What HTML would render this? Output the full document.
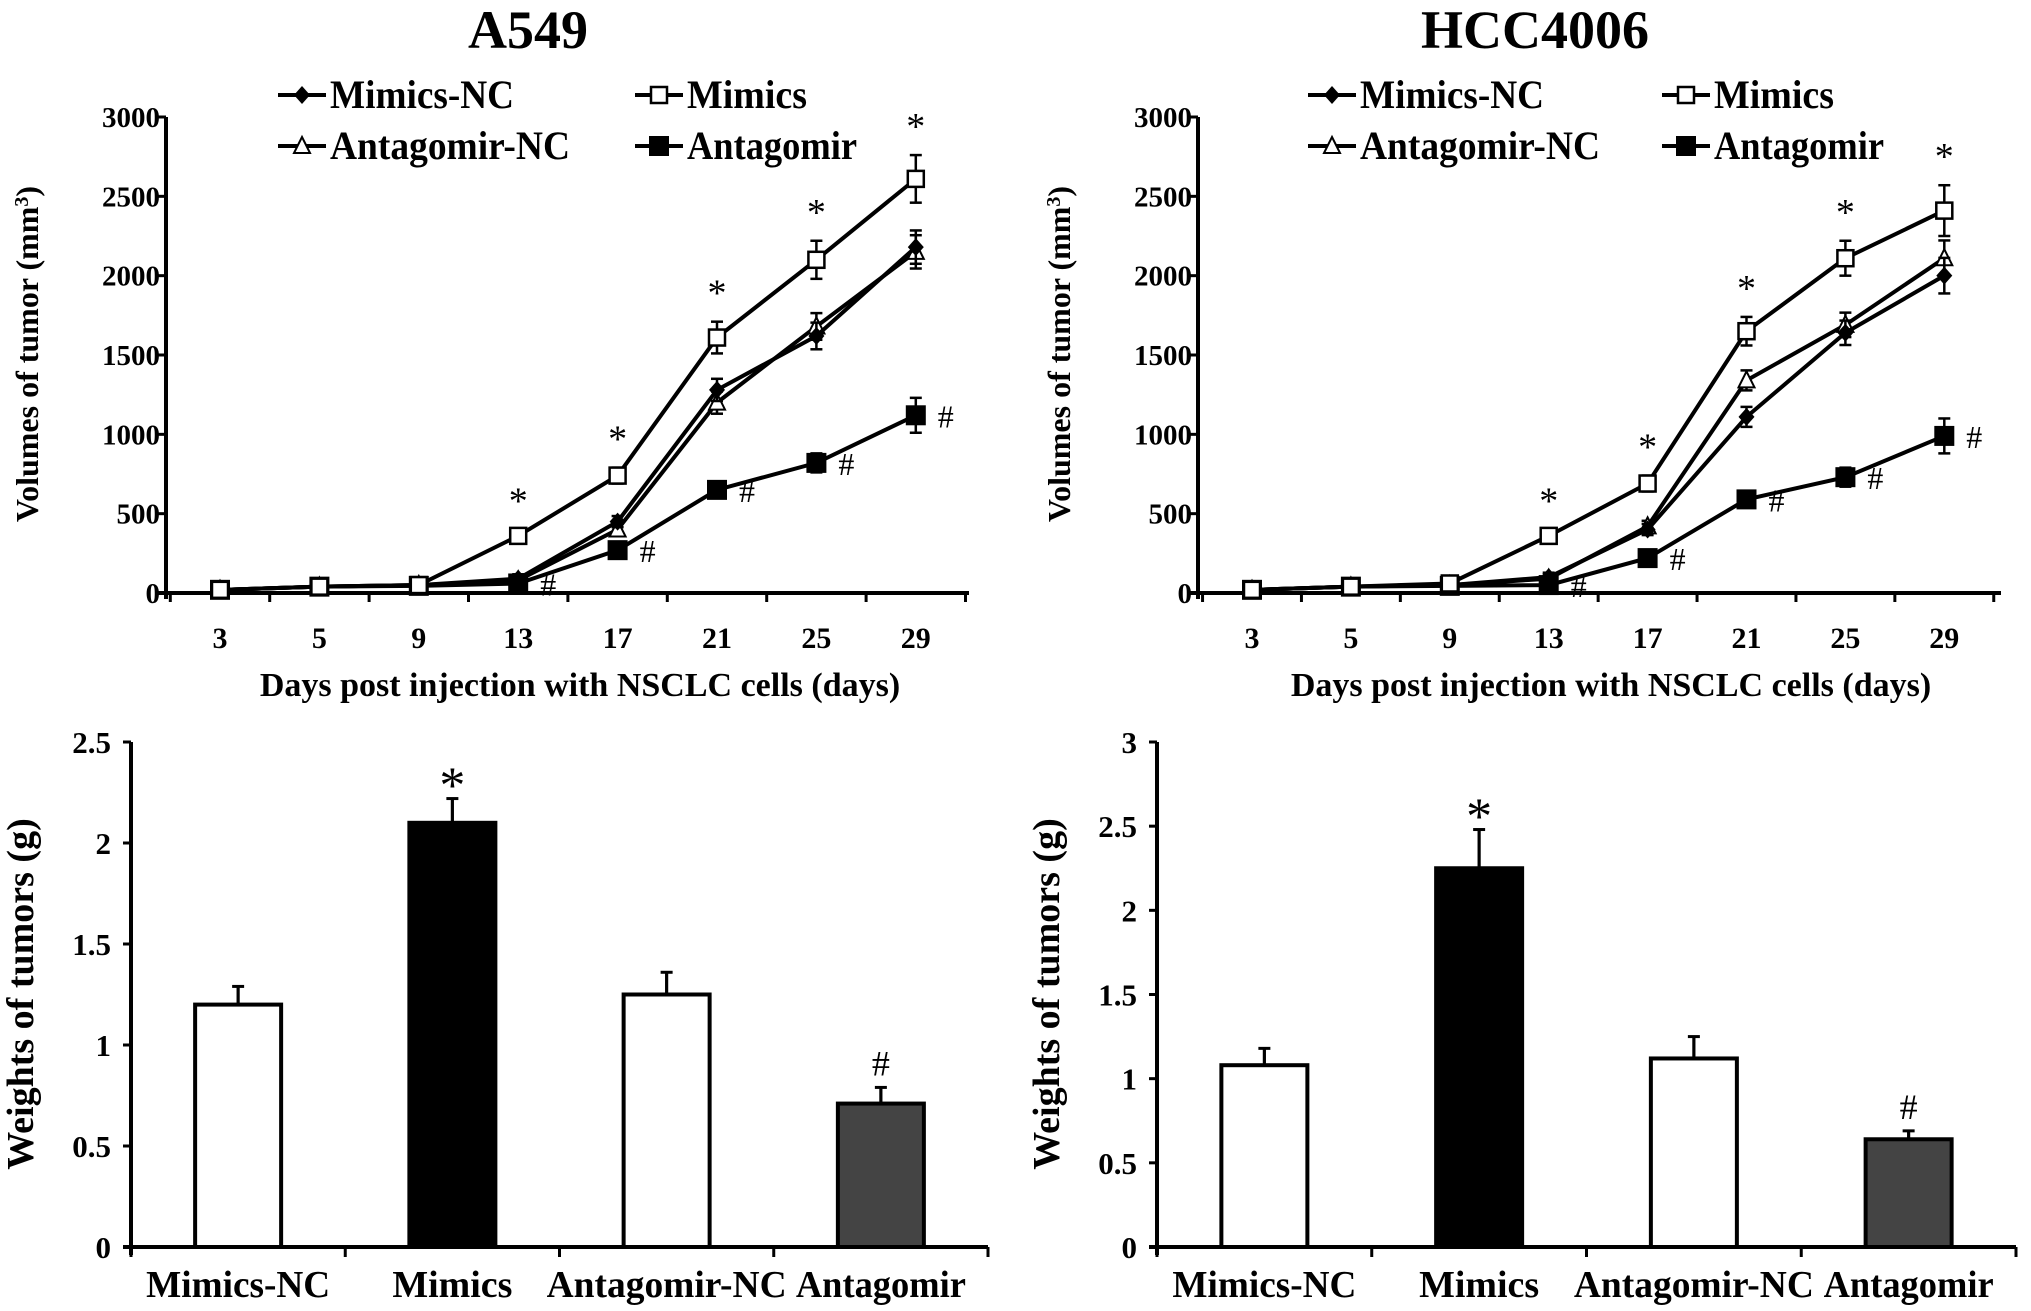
<!DOCTYPE html>
<html><head><meta charset="utf-8">
<style>
html,body{margin:0;padding:0;background:#fff;}
svg{display:block;font-family:"Liberation Serif",serif;font-weight:bold;}
</style></head>
<body>
<svg id="fig" width="2031" height="1311" viewBox="0 0 2031 1311"></svg>
<script>
const days = ["3","5","9","13","17","21","25","29"];
const volTicks = [0,500,1000,1500,2000,2500,3000];
const seriesNames = ["Mimics-NC","Mimics","Antagomir-NC","Antagomir"];
const a549MimicsNC = [20,40,50,90,450,1280,1620,2180];
const a549Mimics = [20,40,50,360,740,1610,2100,2610];
const a549AntagNC = [20,40,50,80,400,1200,1680,2150];
const a549Antag = [20,40,45,60,270,650,820,1120];
const a549MimicsErr = [10,10,15,40,50,100,120,150];
const a549AntagErr = [10,10,10,20,30,50,60,110];
const hccMimicsNC = [20,40,50,100,400,1110,1640,2000];
const hccMimics = [20,40,60,360,690,1650,2110,2410];
const hccAntagNC = [20,40,50,90,420,1340,1690,2110];
const hccAntag = [20,40,45,50,220,590,730,990];
const hccMimicsErr = [10,10,15,40,50,90,110,160];
const hccAntagErr = [10,10,10,20,30,50,60,110];
const barCats = ["Mimics-NC","Mimics","Antagomir-NC","Antagomir"];
const a549Weights = [1.2,2.1,1.25,0.71];
const a549WeightErr = [0.09,0.12,0.11,0.08];
const hccWeights = [1.08,2.25,1.12,0.64];
const hccWeightErr = [0.1,0.23,0.13,0.05];
const a549WTicks = ["0","0.5","1","1.5","2","2.5"];
const hccWTicks = ["0","0.5","1","1.5","2","2.5","3"];

const NS="http://www.w3.org/2000/svg";
const svg=document.getElementById('fig');
function el(tag,attrs,parent,text){const e=document.createElementNS(NS,tag);for(const k in attrs)e.setAttribute(k,attrs[k]);if(text!==undefined)e.textContent=text;(parent||svg).appendChild(e);return e;}

function lineChart(o){
  const g=el('g',{});
  
  
  const y=v=>o.y0-(v/3000)*(o.y0-o.yTop);
  const x=i=>o.x0+i*o.step;
  const t=el('text',{x:o.titleX,y:48,'font-size':54,'text-anchor':'middle'},g,o.title);
  
  const ya=el('line',{x1:o.ax,y1:o.yTop,x2:o.ax,y2:o.y0+6,stroke:'#000','stroke-width':4},g);
  
  const xa=el('line',{x1:o.ax-8,y1:o.y0,x2:o.axEnd,y2:o.y0,stroke:'#000','stroke-width':4},g);
  
  volTicks.forEach(v=>{
    el('line',{x1:o.ax-8,y1:y(v),x2:o.ax,y2:y(v),stroke:'#000','stroke-width':3},g);
    const l=el('text',{x:o.ax-6,y:y(v)+10,'font-size':29,'text-anchor':'end'},g,String(v));
    
  });
  for(let i=0;i<=days.length;i++){const tx=x(i)-o.step/2;el('line',{x1:tx,y1:o.y0,x2:tx,y2:o.y0+9,stroke:'#000','stroke-width':3},g);}
  days.forEach((d,i)=>{const l=el('text',{x:x(i),y:o.y0+55,'font-size':30,'text-anchor':'middle'},g,d);
    });
  const xt=el('text',{x:o.xTitleX,y:696,'font-size':34,'text-anchor':'middle'},g,'Days post injection with NSCLC cells  (days)');
  
  const yt=el('text',{x:0,y:0,'font-size':32,'text-anchor':'middle',transform:`translate(${o.ax-128},354) rotate(-90)`},g);
  
  yt.appendChild(document.createTextNode('Volumes of tumor (mm'));
  el('tspan',{dy:-10,'font-size':20},yt,'3');
  el('tspan',{dy:10},yt,')');
  const ss=o.series;
  const mk=(kind,cx,cy)=>{
    if(kind==0) return el('path',{d:`M${cx} ${cy-9}L${cx+8} ${cy}L${cx} ${cy+9}L${cx-8} ${cy}Z`,fill:'#000'},g);
    if(kind==1) return el('rect',{x:cx-8,y:cy-8,width:16,height:16,fill:'#fff',stroke:'#000','stroke-width':2.5},g);
    if(kind==2) return el('path',{d:`M${cx} ${cy-9}L${cx+8} ${cy+7}L${cx-8} ${cy+7}Z`,fill:'#fff',stroke:'#000','stroke-width':2},g);
    return el('rect',{x:cx-10,y:cy-10,width:20,height:20,fill:'#000'},g);
  };
  const order=[2,0,3,1];
  order.forEach(k=>{
    const vals=ss[k];
    const p=el('polyline',{points:vals.map((v,i)=>x(i)+','+y(v)).join(' '),fill:'none',stroke:'#000','stroke-width':4},g);
    
    const err=k==1?o.mErr:k==3?o.aErr:o.mErr.map(e=>e*0.7);
    vals.forEach((v,i)=>{
      if(err[i]>20){el('line',{x1:x(i),y1:y(v+err[i]),x2:x(i),y2:y(v-err[i]),stroke:'#000','stroke-width':2.5},g);
        el('line',{x1:x(i)-6,y1:y(v+err[i]),x2:x(i)+6,y2:y(v+err[i]),stroke:'#000','stroke-width':2.5},g);
        el('line',{x1:x(i)-6,y1:y(v-err[i]),x2:x(i)+6,y2:y(v-err[i]),stroke:'#000','stroke-width':2.5},g);}
      const m=mk(k,x(i),y(v));
      
    });
  });
  for(let i=3;i<days.length;i++){
    const s=el('text',{x:x(i),y:y(ss[1][i]+o.mErr[i])-16,'font-size':38,'font-weight':'normal','text-anchor':'middle'},g,'*');
    
    const h=el('text',{x:x(i)+22,y:y(ss[3][i])+12,'font-size':32,'font-weight':'normal'},g,'#');
    
  }
  const lg=[[o.lx1,95,0],[o.lx2,95,1],[o.lx1,146,2],[o.lx2,146,3]];
  lg.forEach(([lx,ly,k])=>{
    const e=el('g',{},g);
    
    el('line',{x1:lx,y1:ly,x2:lx+48,y2:ly,stroke:'#000','stroke-width':4},e);
    const m=mk(k,lx+24,ly);e.appendChild(m);
    el('text',{x:lx+52,y:ly+13,'font-size':40,textLength:k==2?240:(k==0?184:(k==1?120:170)),lengthAdjust:'spacingAndGlyphs'},e,seriesNames[k]);
  });
}

function barChart(o){
  const g=el('g',{});
  
  
  const y=v=>o.y0-(v/o.max)*(o.y0-o.yTop);
  const cw=(o.axEnd-o.ax)/barCats.length;
  const cx=i=>o.ax+cw*(i+0.5);
  const ya=el('line',{x1:o.ax,y1:o.yTop,x2:o.ax,y2:o.y0+8,stroke:'#000','stroke-width':4},g);
  
  const xa=el('line',{x1:o.ax-8,y1:o.y0,x2:o.axEnd,y2:o.y0,stroke:'#000','stroke-width':4},g);
  
  o.ticks.forEach(tl=>{const v=parseFloat(tl);
    el('line',{x1:o.ax-8,y1:y(v),x2:o.ax,y2:y(v),stroke:'#000','stroke-width':3},g);
    const l=el('text',{x:o.ax-20,y:y(v)+11,'font-size':31,'text-anchor':'end'},g,tl);
    });
  for(let i=0;i<=barCats.length;i++){el('line',{x1:o.ax+cw*i,y1:o.y0,x2:o.ax+cw*i,y2:o.y0+10,stroke:'#000','stroke-width':3},g);}
  const fills=['#fff','#000','#fff','#444'];
  const lens=[184,120,240,170];
  barCats.forEach((c,i)=>{
    const v=o.vals[i],e=o.errs[i];
    el('line',{x1:cx(i),y1:y(v+e),x2:cx(i),y2:y(v-e),stroke:'#000','stroke-width':3},g);
    el('line',{x1:cx(i)-6,y1:y(v+e),x2:cx(i)+6,y2:y(v+e),stroke:'#000','stroke-width':3},g);
    el('line',{x1:cx(i)-6,y1:y(v-e),x2:cx(i)+6,y2:y(v-e),stroke:'#000','stroke-width':3},g);
    const b=el('rect',{x:cx(i)-43,y:y(v),width:86,height:o.y0-y(v),fill:fills[i],stroke:'#000','stroke-width':4},g);
    
    el('line',{x1:cx(i),y1:y(v+e),x2:cx(i),y2:y(v),stroke:'#000','stroke-width':3},g);
    const l=el('text',{x:cx(i),y:o.y0+50,'font-size':38,'text-anchor':'middle',textLength:lens[i],lengthAdjust:'spacingAndGlyphs'},g,c);
    
  });
  const s=el('text',{x:cx(1),y:y(o.vals[1]+o.errs[1])+4,'font-size':52,'font-weight':'normal','text-anchor':'middle'},g,'*');
  
  const h=el('text',{x:cx(3),y:y(o.vals[3]+o.errs[3])-12,'font-size':36,'font-weight':'normal','text-anchor':'middle'},g,'#');
  
  const yt=el('text',{x:0,y:0,'font-size':38,'text-anchor':'middle',transform:`translate(${o.ax-98},994) rotate(-90)`},g,'Weights of tumors (g)');
  
}

lineChart({name:'a549-volume-chart',title:'A549',titleX:528,ax:166,axEnd:969,y0:593,yTop:117,x0:220,step:99.4,
  xTitleX:580,lx1:278,lx2:635,series:[a549MimicsNC,a549Mimics,a549AntagNC,a549Antag],mErr:a549MimicsErr,aErr:a549AntagErr});
lineChart({name:'hcc4006-volume-chart',title:'HCC4006',titleX:1535,ax:1198,axEnd:2001,y0:593,yTop:117,x0:1252,step:98.9,
  xTitleX:1611,lx1:1308,lx2:1662,series:[hccMimicsNC,hccMimics,hccAntagNC,hccAntag],mErr:hccMimicsErr,aErr:hccAntagErr});
barChart({name:'a549-weight-chart',ax:131,axEnd:988,y0:1247,yTop:742,max:2.5,ticks:a549WTicks,vals:a549Weights,errs:a549WeightErr});
barChart({name:'hcc4006-weight-chart',ax:1157,axEnd:2016,y0:1247,yTop:742,max:3,ticks:hccWTicks,vals:hccWeights,errs:hccWeightErr});
</script>
</body></html>
